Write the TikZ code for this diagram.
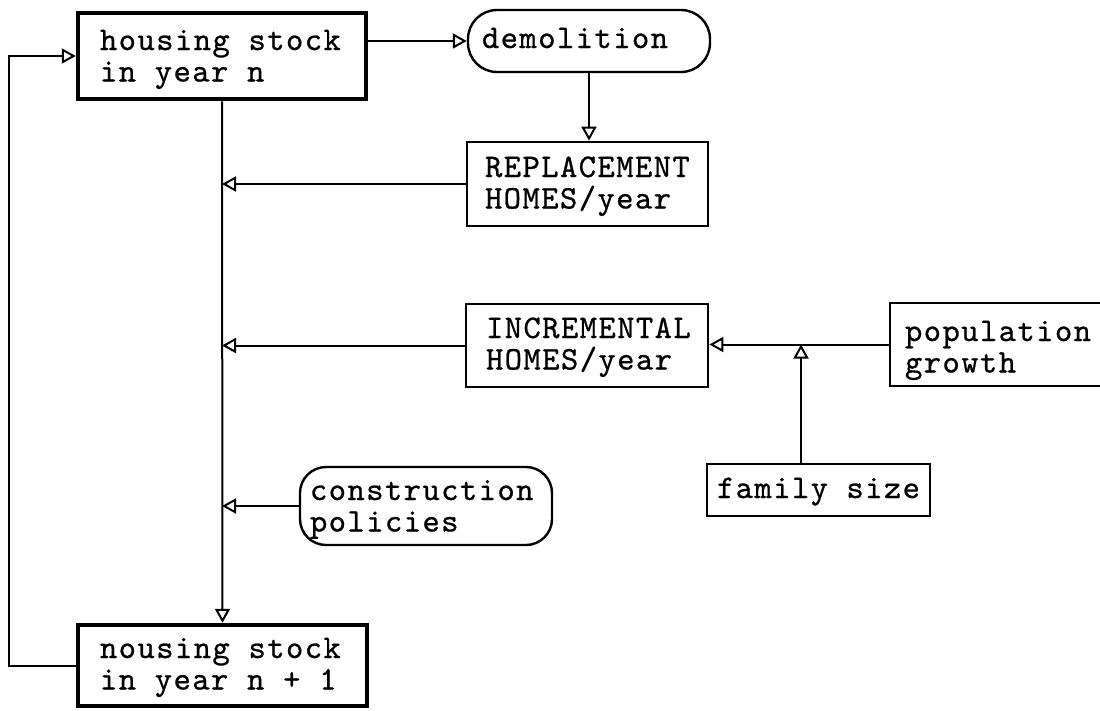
\documentclass[tikz,border=0pt]{standalone}
\usepackage{fontspec}
\usetikzlibrary{arrows.meta}
\newfontfamily\tw{lmmono10-regular}[Extension=.otf, LetterSpace=4.3, FakeBold=0.7]
\begin{document}
\begin{tikzpicture}[x=1pt, y=-1pt,
  box/.style={draw, align=flush left, inner ysep=0pt, text height=20pt,
    font={\tw\fontsize{33pt}{31.5pt}\selectfont\hyphenpenalty=10000 }},
  link/.style={line width=2pt},
  flow/.style={link, -{Triangle[open, length=14pt, width=15pt]}},
]
\useasboundingbox (0,0) rectangle (1100,710);
\fill[white] (0,0) rectangle (1100,710);
\clip (0,0) rectangle (1100,710);

% stock boxes
\node[box, line width=4.5pt, minimum width=288pt, minimum height=86pt,
      inner xsep=22pt, text width=244pt, text depth=32pt]
      (A) at (222,56) {housing stock\\in year n};
\node[box, line width=4.5pt, minimum width=289pt, minimum height=81pt,
      inner xsep=22pt, text width=245pt, text depth=35pt]
      (B) at (222.5,665.5) {nousing stock\\in year n + 1};

% flows and influences
\node[box, line width=2.4pt, rounded corners=29pt, minimum width=242pt, minimum height=62pt,
      inner xsep=14pt, text width=214pt, text depth=6pt]
      (D) at (589,41) {demolition};
\node[box, line width=2.8pt, minimum width=241pt, minimum height=84pt,
      inner xsep=18pt, text width=205pt, text depth=34pt]
      (R) at (587.5,184) {REPLACEMENT\\HOMES/year};
\node[box, line width=2.8pt, minimum width=242pt, minimum height=83pt,
      inner xsep=20pt, text width=202pt, text depth=35pt]
      (I) at (587,345.5) {INCREMENTAL\\HOMES/year};
\node[box, line width=2.4pt, rounded corners=26pt, minimum width=252pt, minimum height=78pt,
      inner xsep=10pt, text width=232pt, text depth=32pt]
      (C) at (426,506) {construction\\policies};
\node[box, line width=2.8pt, minimum width=222pt, minimum height=83pt,
      inner xsep=15pt, text width=192pt, text depth=27pt]
      (P) at (1001,344.5) {population\\growth};
\node[box, line width=2.8pt, minimum width=223pt, minimum height=52pt,
      inner xsep=10pt, text width=203pt, text depth=4pt]
      (F) at (818.5,490) {family size};

\coordinate (loop) at (9,0);

% connectors
\draw[flow] (D.west -| A.east) -- (D.west);
\draw[flow] (D.south) -- (D.south |- R.north);
\draw[flow] (A.south) -- (B.north);
\draw[flow] (R.west) -- (R.west -| A.south);
\draw[flow] (I.west) -- (I.west -| A.south);
\draw[flow] (C.west) -- (C.west -| A.south);
\draw[flow] (P.west) -- (P.west -| I.east);
\draw[flow] ([xshift=-17.5pt]F.north) -- ([xshift=-17.5pt]F.north |- P.west);
\draw[flow] (B.west) -- (B.west -| loop) -- (A.west -| loop) -- (A.west);
\end{tikzpicture}
\end{document}
